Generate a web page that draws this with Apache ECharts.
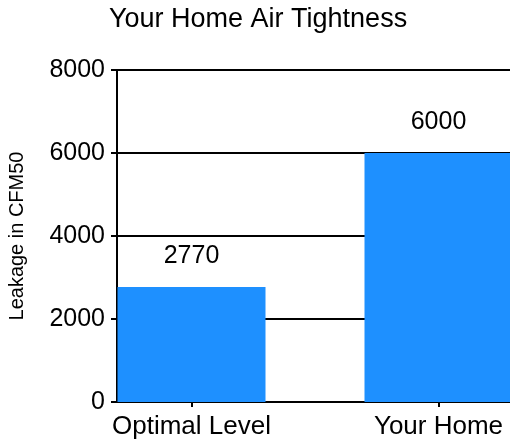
<!DOCTYPE html>
<html>
<head>
<meta charset="utf-8">
<script src="https://cdn.jsdelivr.net/npm/echarts@6/dist/echarts.min.js"></script>
<style>
  html, body { margin: 0; padding: 0; background: #fff; }
  #main { width: 510px; height: 445px; }
</style>
</head>
<body>
<div id="main"></div>
<script>
const title = "Your Home Air Tightness";
const yName = "Leakage in CFM50";
const categories = ["Optimal Level", "Your Home"];
const leakage = [2770, 6000];
const yMin = 0;
const yMax = 8000;
const yStep = 2000;

const font = "Liberation Sans, Arial, sans-serif";
const chart = echarts.init(document.getElementById("main"), null, { renderer: "canvas" });

const option = {
  animation: false,
  backgroundColor: "#fff",
  title: {
    text: title,
    left: 109,
    top: 6,
    padding: 0,
    textStyle: { fontFamily: font, fontSize: 27, fontWeight: "normal", color: "#000" },
  },
  grid: [
    // frame: y axis, split lines, bottom line
    { left: 117, top: 70, width: 395, height: 332, outerBoundsMode: "none" },
    // bars: wider band so the bars sit where the original had them
    { left: 68, top: 70, width: 494, height: 332, outerBoundsMode: "none" },
  ],
  xAxis: [
    {
      gridIndex: 0,
      type: "category",
      data: categories,
      axisLine: { lineStyle: { color: "#000", width: 2 } },
      axisTick: { show: false },
      axisLabel: { show: false },
      splitLine: { show: false },
    },
    {
      gridIndex: 1,
      type: "category",
      data: categories,
      axisLine: { show: false },
      axisTick: { show: true, alignWithLabel: true, length: 5, lineStyle: { color: "#000", width: 2 } },
      axisLabel: { fontFamily: font, fontSize: 26, color: "#000", margin: 12 },
      splitLine: { show: false },
    },
  ],
  yAxis: [
    {
      gridIndex: 0,
      type: "value",
      min: yMin,
      max: yMax,
      interval: yStep,
      name: yName,
      nameLocation: "middle",
      nameGap: 90,
      nameRotate: 90,
      nameTextStyle: { fontFamily: font, fontSize: 20, color: "#000" },
      axisLine: { show: true, lineStyle: { color: "#000", width: 2 } },
      axisTick: { show: true, inside: false, length: 6, lineStyle: { color: "#000", width: 2 } },
      axisLabel: {
        fontFamily: font,
        fontSize: 25,
        color: "#000",
        margin: 12,
        formatter: (v) => String(v),
      },
      splitLine: { show: true, lineStyle: { color: "#000", width: 2 } },
    },
    {
      gridIndex: 1,
      type: "value",
      min: yMin,
      max: yMax,
      interval: yStep,
      show: false,
      splitLine: { show: false },
    },
  ],
  series: [
    {
      type: "bar",
      xAxisIndex: 1,
      yAxisIndex: 1,
      data: leakage,
      barWidth: 148,
      itemStyle: { color: "#1E90FF" },
      label: {
        show: true,
        position: "top",
        distance: 18,
        fontFamily: font,
        fontSize: 25,
        color: "#000",
      },
    },
  ],
};

chart.setOption(option);
</script>
</body>
</html>
